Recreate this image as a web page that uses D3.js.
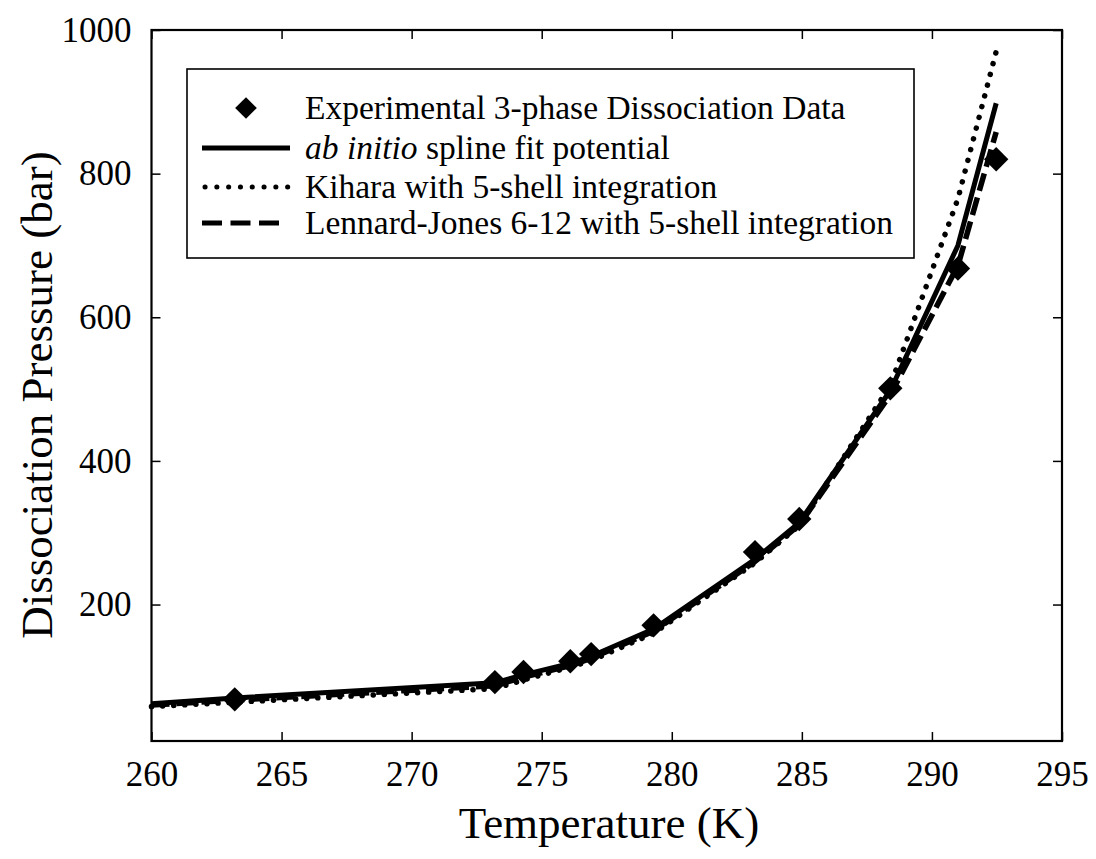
<!DOCTYPE html>
<html>
<head>
<meta charset="utf-8">
<script src="https://cdn.jsdelivr.net/npm/d3@7/dist/d3.min.js"></script>
<style>
  html, body { margin: 0; padding: 0; background: #fff; }
  svg { display: block; }
  svg text { font-family: "Liberation Serif", "Times New Roman", Times, serif; fill: #000; }
</style>
</head>
<body>
<svg id="chart" width="1096" height="859"></svg>
<script>
// Hydrate three-phase dissociation pressure vs temperature
const expTemp  = [263.2, 273.2, 274.3, 276.1, 276.9, 279.3, 283.2, 284.9, 288.4, 291.0, 292.47];
const expPres  = [68, 92, 106, 121, 131, 171, 273, 319, 501, 668, 820];

const modelTemp   = [260, 263.2, 273.2, 274.3, 276.1, 276.9, 279.3, 283.2, 284.9, 288.4, 291.0, 292.47];
const abInitio    = [62, 70, 91, 102, 118, 128, 166, 263, 314, 498, 700, 898];
const kihara      = [58, 64, 83, 95, 113, 122, 160, 258, 310, 505, 765, 970];
const lennardJones = [60, 67, 87, 99, 115, 125, 163, 260, 311, 492, 672, 858];

const xTicks = [260, 265, 270, 275, 280, 285, 290, 295];
const yTicks = [200, 400, 600, 800, 1000];

const legendLabels = [
  "Experimental 3-phase Dissociation Data",
  "ab initio spline fit potential",
  "Kihara with 5-shell integration",
  "Lennard-Jones 6-12 with 5-shell integration"
];

const svg = d3.select("#chart");
const plotL = 151.5, plotR = 1062, plotT = 30, plotB = 741;

const x = d3.scaleLinear().domain([260, 295]).range([plotL, plotR]);
const y = d3.scaleLinear().domain([10, 1000]).range([plotB, plotT]);

const serif = '"Liberation Serif", "Times New Roman", Times, serif';
const fmt = d3.format("d");

// Axes with inward ticks on all four sides
const tickLen = 9;
function styleAxis(g) {
  g.attr("font-family", null).attr("font-size", null);
  g.select(".domain").remove();
  g.selectAll("text").style("font-family", serif).style("font-size", "35px").attr("fill", "#000");
  g.selectAll("line").attr("stroke", "#000").attr("stroke-width", 1.5);
}
svg.append("g").attr("transform", `translate(0,${plotB})`)
  .call(d3.axisBottom(x).tickValues(xTicks).tickFormat(fmt).tickSizeInner(-tickLen).tickSizeOuter(0).tickPadding(20))
  .call(styleAxis);

svg.append("g").attr("transform", `translate(0,${plotT})`)
  .call(d3.axisTop(x).tickValues(xTicks).tickSizeInner(-tickLen).tickSizeOuter(0).tickFormat(""))
  .call(styleAxis);

svg.append("g").attr("transform", `translate(${plotL},0)`)
  .call(d3.axisLeft(y).tickValues(yTicks).tickFormat(fmt).tickSizeInner(-tickLen).tickSizeOuter(0).tickPadding(20))
  .call(styleAxis);

svg.append("g").attr("transform", `translate(${plotR},0)`)
  .call(d3.axisRight(y).tickValues(yTicks).tickSizeInner(-tickLen).tickSizeOuter(0).tickFormat(""))
  .call(styleAxis);

// Plot frame
svg.append("rect")
  .attr("x", plotL).attr("y", plotT)
  .attr("width", plotR - plotL).attr("height", plotB - plotT)
  .attr("fill", "none").attr("stroke", "#000").attr("stroke-width", 2.2);

// Model curves
const line = d3.line().x(d => x(d[0])).y(d => y(d[1]));
const seriesDefs = [
  { values: kihara, dash: "0.1 11", cap: "round", width: 5.5 },
  { values: lennardJones, dash: "18 7", cap: "butt", width: 5.5 },
  { values: abInitio, dash: null, cap: "butt", width: 5 }
];
seriesDefs.forEach(s => {
  svg.append("path")
    .datum(modelTemp.map((t, i) => [t, s.values[i]]))
    .attr("d", line)
    .attr("fill", "none")
    .attr("stroke", "#000")
    .attr("stroke-width", s.width)
    .attr("stroke-linecap", s.cap)
    .attr("stroke-linejoin", "round")
    .attr("stroke-dasharray", s.dash);
});

// Experimental points as diamonds
const diamond = d3.symbol().type(d3.symbolDiamond2).size(380);
svg.append("g").selectAll("path")
  .data(expTemp.map((t, i) => [t, expPres[i]]))
  .join("path")
  .attr("d", diamond)
  .attr("transform", d => `translate(${x(d[0])},${y(d[1])})`)
  .attr("fill", "#000");

// Legend
const lg = svg.append("g");
lg.append("rect").attr("x", 187).attr("y", 69).attr("width", 727).attr("height", 189)
  .attr("fill", "#fff").attr("stroke", "#000").attr("stroke-width", 1.6);

const rowY = [108, 148, 187, 223];
const sx0 = 202, sx1 = 290, tx = 305;
lg.append("path").attr("d", d3.symbol().type(d3.symbolDiamond2).size(300)())
  .attr("transform", `translate(${(sx0 + sx1) / 2},${rowY[0]})`).attr("fill", "#000");
const legendLines = [
  { dash: null, cap: "butt", x1: sx0, x2: sx1 },
  { dash: "0.1 11.7", cap: "round", x1: sx0 + 3, x2: sx1 },
  { dash: "20 8.5", cap: "butt", x1: sx0, x2: sx0 + 77 }
];
legendLines.forEach((s, i) => {
  lg.append("line").attr("x1", s.x1).attr("x2", s.x2).attr("y1", rowY[i + 1]).attr("y2", rowY[i + 1])
    .attr("stroke", "#000").attr("stroke-width", 5).attr("stroke-linecap", s.cap)
    .attr("stroke-dasharray", s.dash);
});

const legText = lg.selectAll("text.leg").data(legendLabels).join("text")
  .attr("class", "leg")
  .attr("x", tx).attr("y", (d, i) => rowY[i])
  .attr("dy", "0.33em")
  .style("font-size", "33.5px");
legText.each(function(d, i) {
  const t = d3.select(this);
  if (i === 1) {
    t.append("tspan").style("font-style", "italic").text("ab initio");
    t.append("tspan").text(" spline fit potential");
  } else {
    t.text(d);
  }
});

// Axis titles
svg.append("text").attr("x", 609).attr("y", 838)
  .attr("text-anchor", "middle").style("font-size", "45px")
  .text("Temperature (K)");
svg.append("text")
  .attr("transform", `translate(52,395) rotate(-90)`)
  .attr("text-anchor", "middle").style("font-size", "45px")
  .text("Dissociation Pressure (bar)");
</script>
</body>
</html>
